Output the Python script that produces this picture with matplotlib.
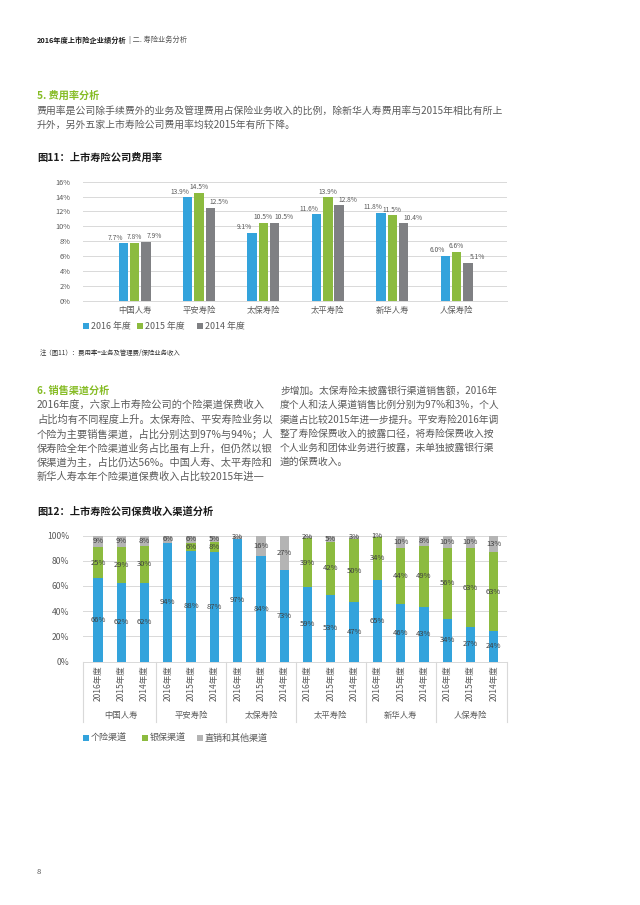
import matplotlib
matplotlib.use("Agg")
import matplotlib.pyplot as plt
from matplotlib.patches import Rectangle
from matplotlib.transforms import blended_transform_factory

plt.rcParams['font.family'] = ['Noto Sans CJK SC', 'DejaVu Sans']

# ---------------- data ----------------
companies = ['中国人寿', '平安寿险', '太保寿险', '太平寿险', '新华人寿', '人保寿险']
year_series = ['2016 年度', '2015 年度', '2014 年度']
exp_2016 = [7.7, 13.9, 9.1, 11.6, 11.8, 6.0]
exp_2015 = [7.8, 14.5, 10.5, 13.9, 11.5, 6.6]
exp_2014 = [7.9, 12.5, 10.5, 12.8, 10.4, 5.1]
exp_ticks = [0, 2, 4, 6, 8, 10, 12, 14, 16]

year_labels = ['2016年度', '2015年度', '2014年度']
channel_names = ['个险渠道', '银保渠道', '直销和其他渠道']
individual = [66, 62, 62, 94, 88, 87, 97, 84, 73, 59, 53, 47, 65, 46, 43, 34, 27, 24]
bancassurance = [25, 29, 30, 0, 6, 8, 0, 0, 0, 39, 42, 50, 34, 44, 49, 56, 63, 63]
direct_other = [9, 9, 8, 6, 6, 5, 3, 16, 27, 2, 5, 3, 1, 10, 8, 10, 10, 13]
share_ticks = [0, 20, 40, 60, 80, 100]

BLUE = '#33a3dc'
GREEN = '#8cbb3f'
DGRAY = '#7f8083'
LGRAY = '#b4b4b4'
TXT = '#5a5a5a'
GRID = '#d9d9d9'
DEL_GREEN = '#86bc25'

W, H = 640, 905
fig = plt.figure(figsize=(W / 100, H / 100), dpi=100)
fig.patch.set_facecolor('white')


def fx(x):
    return x / W


def fy(y):
    return 1 - y / H


def T(x, y, s, size, color=TXT, weight='normal', ha='left', va='center'):
    return fig.text(fx(x), fy(y), s, fontsize=size, color=color,
                    fontweight=weight, ha=ha, va=va)


def fit_block(lines, x, y0, step, target_w, base, color=TXT):
    ts = [T(x, y0 + i * step, s, base, color) for i, s in enumerate(lines)]
    r = fig.canvas.get_renderer()
    w = ts[0].get_window_extent(r).width
    size = base * target_w / w
    for t in ts:
        t.set_fontsize(size)
    return ts


def legend_row(items, xs, y, size):
    for (label, col), x in zip(items, xs):
        fig.patches.append(Rectangle((fx(x), fy(y + 3)), fx(6), 6 / H,
                                     transform=fig.transFigure,
                                     facecolor=col, edgecolor='none'))
        T(x + 8, y, label, size)


# ---------------- header / text ----------------
h1 = T(37, 40, '2016年度上市险企业绩分析', 5.2, '#1a1a1a', 'bold')
r = fig.canvas.get_renderer()
bb = h1.get_window_extent(r)
T(bb.x1 + 2, 40, '| 二. 寿险业务分析', 5.2, '#555555')

T(37, 96, '5. 费用率分析', 7.3, DEL_GREEN, 'bold')
fit_block(['费用率是公司除手续费外的业务及管理费用占保险业务收入的比例，除新华人寿费用率与2015年相比有所上',
           '升外，另外五家上市寿险公司费用率均较2015年有所下降。'],
          37, 111, 13.5, 466, 7.2)
T(37, 158, '图11：上市寿险公司费用率', 7.4, '#1a1a1a', 'bold')

# ---------------- chart 1 ----------------
ax1 = fig.add_axes([fx(83), fy(300.7), fx(424), (300.7 - 181.7) / H])
n = len(companies)
xs = list(range(n))
bw, step = 0.147, 0.175
label_shift = [-8, 0, 9]   # px, to keep neighbouring labels apart
for k, (vals, col) in enumerate(zip([exp_2016, exp_2015, exp_2014], [BLUE, GREEN, DGRAY])):
    pos = [x + (k - 1) * step for x in xs]
    bars = ax1.bar(pos, vals, width=bw, color=col, zorder=3)
    for b, v in zip(bars, vals):
        ax1.annotate(f'{v:.1f}%', (b.get_x() + b.get_width() / 2, v),
                     xytext=(label_shift[k] * 0.72, 1.2), textcoords='offset points',
                     ha='center', va='bottom', fontsize=4.8, color=TXT)
ax1.set_xlim(-0.80, 5.78)
ax1.set_ylim(0, 16)
ax1.set_yticks(exp_ticks)
ax1.set_yticklabels([f'{t}%' for t in exp_ticks], fontsize=5.3, color=TXT)
ax1.set_xticks(xs)
ax1.set_xticklabels(companies, fontsize=6, color=TXT)
ax1.tick_params(length=0, pad=4)
ax1.tick_params(axis='y', pad=9)
ax1.grid(axis='y', color=GRID, lw=0.7, zorder=0)
for s in ['top', 'right', 'left']:
    ax1.spines[s].set_visible(False)
ax1.spines['bottom'].set_color(GRID)
ax1.spines['bottom'].set_linewidth(0.7)

legend_row(list(zip(year_series, [BLUE, GREEN, DGRAY])), [83, 137, 197], 326, 6.4)
T(40, 353, '注（图11）：费用率=业务及管理费/保险业务收入', 4.6, '#333333')

# ---------------- section 6 ----------------
T(37, 391, '6. 销售渠道分析', 7.3, DEL_GREEN, 'bold')
fit_block(['2016年度，六家上市寿险公司的个险渠道保费收入',
           '占比均有不同程度上升。太保寿险、平安寿险业务以',
           '个险为主要销售渠道，占比分别达到97%与94%；人',
           '保寿险全年个险渠道业务占比虽有上升，但仍然以银',
           '保渠道为主，占比仍达56%。中国人寿、太平寿险和',
           '新华人寿本年个险渠道保费收入占比较2015年进一'],
          37, 405, 14.4, 226, 7.6)
fit_block(['步增加。太保寿险未披露银行渠道销售额，2016年',
           '度个人和法人渠道销售比例分别为97%和3%，个人',
           '渠道占比较2015年进一步提升。平安寿险2016年调',
           '整了寿险保费收入的披露口径，将寿险保费收入按',
           '个人业务和团体业务进行披露，未单独披露银行渠',
           '道的保费收入。'],
          280, 391, 14.2, 218, 7.3)
T(37, 512, '图12：上市寿险公司保费收入渠道分析', 7.4, '#1a1a1a', 'bold')

# ---------------- chart 2 ----------------
top, bot = 535.5, 661.5
ax2 = fig.add_axes([fx(83), fy(bot), fx(424), (bot - top) / H])
m = len(individual)
xs2 = list(range(m))
bw2 = 0.40
bottoms = [0] * m
for vals, col in zip([individual, bancassurance, direct_other], [BLUE, GREEN, LGRAY]):
    ax2.bar(xs2, vals, width=bw2, bottom=bottoms, color=col, zorder=3)
    for x, b0, v in zip(xs2, bottoms, vals):
        if v > 0:
            ax2.text(x, b0 + v / 2, f'{v}%', ha='center', va='center',
                     fontsize=5.5, color='#3f3f3f', zorder=4)
    bottoms = [b + v for b, v in zip(bottoms, vals)]
x_lo, x_hi = -0.644, 17.57
ax2.set_xlim(x_lo, x_hi)
ax2.set_ylim(0, 100)
ax2.set_yticks(share_ticks)
ax2.set_yticklabels([f'{t}%' for t in share_ticks], fontsize=6.2, color=TXT)
ax2.set_xticks(xs2)
ax2.set_xticklabels(year_labels * len(companies), rotation=90, fontsize=6.1,
                    color=TXT, va='top', ha='center')
ax2.tick_params(length=0)
ax2.tick_params(axis='x', pad=3)
ax2.tick_params(axis='y', pad=10)
ax2.grid(axis='y', color=GRID, lw=0.7, zorder=0)
for s in ['top', 'right', 'left']:
    ax2.spines[s].set_visible(False)
ax2.spines['bottom'].set_color(GRID)
ax2.spines['bottom'].set_linewidth(0.7)

trans = blended_transform_factory(ax2.transData, ax2.transAxes)
sep_bottom = -(722 - bot) / (bot - top)
lab_y = -(715 - bot) / (bot - top)
sep_x = [x_lo] + [3 * g + 2.5 for g in range(len(companies) - 1)] + [x_hi]
for sx in sep_x:
    ax2.plot([sx, sx], [0, sep_bottom], transform=trans, color=GRID, lw=0.8,
             clip_on=False)
for g, name in enumerate(companies):
    ax2.text(3 * g + 1, lab_y, name, transform=trans, ha='center', va='center',
             fontsize=6, color=TXT)

legend_row(list(zip(channel_names, [BLUE, GREEN, LGRAY])), [83, 142, 197], 738, 6.5)

T(37, 872, '8', 5.5, '#555555')

fig.savefig('out.png', dpi=100, facecolor='white')
